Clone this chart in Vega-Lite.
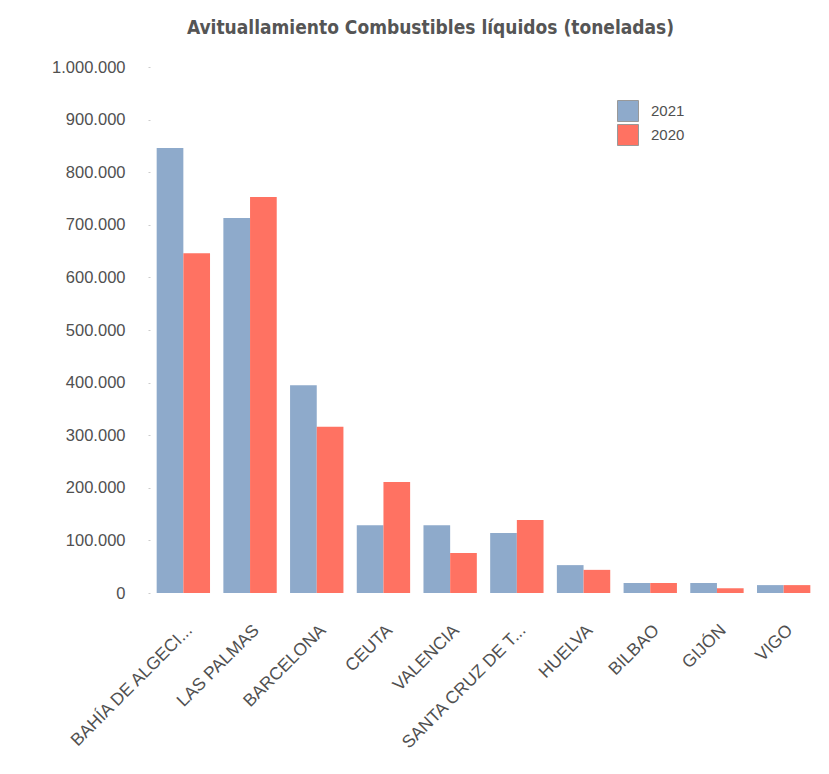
{
  "$schema": "https://vega.github.io/schema/vega-lite/v6.json",
  "width": 667,
  "height": 526,
  "autosize": {"type": "none"},
  "padding": {"left": 150, "top": 67, "right": 12, "bottom": 181},
  "background": "white",
  "title": {
    "text": "Avituallamiento Combustibles líquidos (toneladas)",
    "font": "DejaVu Sans Condensed",
    "fontSize": 19,
    "fontWeight": "bold",
    "color": "#555555",
    "anchor": "middle",
    "dx": -53,
    "offset": 21
  },
  "config": {"view": {"stroke": null}},
  "data": {
    "values": [
      {"puerto": "BAHÍA DE ALGECI...", "anio": "2021", "t": 846000},
      {"puerto": "BAHÍA DE ALGECI...", "anio": "2020", "t": 646000},
      {"puerto": "LAS PALMAS", "anio": "2021", "t": 713000},
      {"puerto": "LAS PALMAS", "anio": "2020", "t": 753000},
      {"puerto": "BARCELONA", "anio": "2021", "t": 395000},
      {"puerto": "BARCELONA", "anio": "2020", "t": 316000},
      {"puerto": "CEUTA", "anio": "2021", "t": 129000},
      {"puerto": "CEUTA", "anio": "2020", "t": 211000},
      {"puerto": "VALENCIA", "anio": "2021", "t": 129000},
      {"puerto": "VALENCIA", "anio": "2020", "t": 76000},
      {"puerto": "SANTA CRUZ DE T...", "anio": "2021", "t": 114000},
      {"puerto": "SANTA CRUZ DE T...", "anio": "2020", "t": 139000},
      {"puerto": "HUELVA", "anio": "2021", "t": 53000},
      {"puerto": "HUELVA", "anio": "2020", "t": 44000},
      {"puerto": "BILBAO", "anio": "2021", "t": 19000},
      {"puerto": "BILBAO", "anio": "2020", "t": 19000},
      {"puerto": "GIJÓN", "anio": "2021", "t": 19000},
      {"puerto": "GIJÓN", "anio": "2020", "t": 9000},
      {"puerto": "VIGO", "anio": "2021", "t": 15000},
      {"puerto": "VIGO", "anio": "2020", "t": 15000}
    ]
  },
  "mark": {"type": "bar"},
  "encoding": {
    "x": {
      "field": "puerto",
      "type": "nominal",
      "sort": null,
      "scale": {"paddingInner": 0.2, "paddingOuter": 0.1},
      "axis": {
        "title": null,
        "labelAngle": -45,
        "labelFont": "Liberation Sans",
        "labelFontSize": 17.5,
        "labelColor": "#505050",
        "labelPadding": 28,
        "ticks": false,
        "domain": false,
        "labelLimit": 300
      }
    },
    "xOffset": {"field": "anio", "type": "nominal", "sort": ["2021", "2020"]},
    "y": {
      "field": "t",
      "type": "quantitative",
      "scale": {"domain": [0, 1000000], "nice": false},
      "axis": {
        "title": null,
        "values": [0, 100000, 200000, 300000, 400000, 500000, 600000, 700000, 800000, 900000, 1000000],
        "labelExpr": "replace(format(datum.value, ','), /,/g, '.')",
        "labelFont": "Liberation Sans",
        "labelFontSize": 16.5,
        "labelColor": "#505050",
        "labelPadding": 23,
        "tickSize": 2,
        "tickColor": "#cccccc",
        "domain": false,
        "grid": false
      }
    },
    "color": {
      "field": "anio",
      "type": "nominal",
      "sort": ["2021", "2020"],
      "scale": {"domain": ["2021", "2020"], "range": ["#8eaacb", "#ff7262"]},
      "legend": {
        "title": null,
        "orient": "none",
        "legendX": 467,
        "legendY": 33,
        "symbolType": "square",
        "symbolSize": 441,
        "symbolStrokeColor": "#999999",
        "symbolStrokeWidth": 1,
        "rowPadding": -8,
        "labelFont": "Liberation Sans",
        "labelFontSize": 15,
        "labelColor": "#505050",
        "labelOffset": 12
      }
    }
  }
}
